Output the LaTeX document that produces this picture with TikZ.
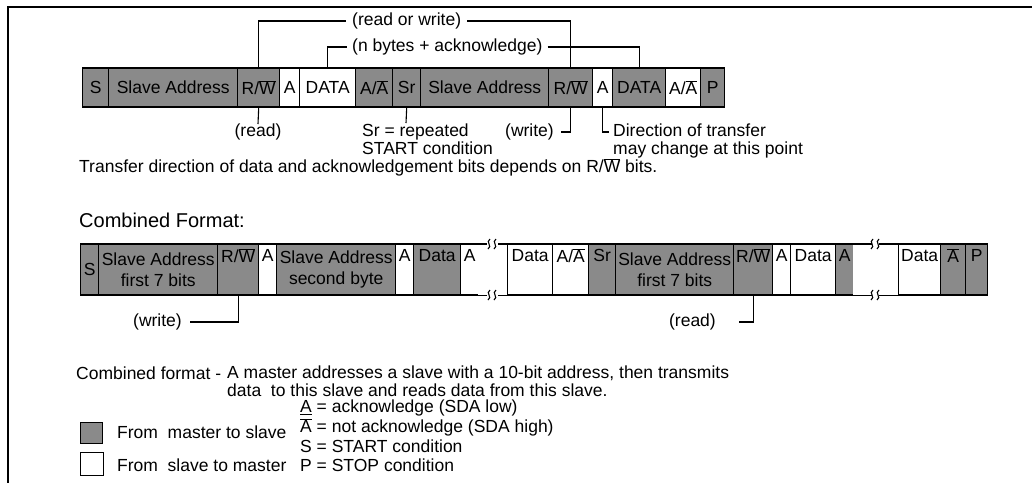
\documentclass[tikz,border=0pt]{standalone}
\usepackage{fontspec}
\setmainfont{Liberation Sans}
\newcommand\fs{\fontsize{17.5}{18}\selectfont}
\newcommand\fsc{\fontsize{17.5}{21}\selectfont}
\newcommand\fsb{\fontsize{20}{22}\selectfont}
\newcommand\ovl[1]{\ensuremath{\overline{\mbox{#1}}}}
\definecolor{cellgrey}{RGB}{138,138,138}
\newcommand\brkmark[2]{%
  \draw[conn] (#1-4,#2+5) .. controls (#1+1,#2+2) and (#1-7,#2-2) .. (#1-2,#2-5);
  \draw[conn] (#1+2,#2+5) .. controls (#1+7,#2+2) and (#1-1,#2-2) .. (#1+4,#2-5);}
\begin{document}
\begin{tikzpicture}[x=1pt,y=-1pt,
  cellbase/.style={draw=black, line width=1.4pt, inner sep=0pt, anchor=west, align=center},
  gc/.style={cellbase, fill=cellgrey},
  wc/.style={cellbase, fill=white},
  rowa/.style={minimum height=39, font=\fs},
  rowb/.style={minimum height=51, font=\fsc},
  lbl/.style={font=\fs, inner sep=0pt, align=left},
  conn/.style={line width=1.1pt},
  gapcell/.style={inner sep=0pt, anchor=west, minimum height=51, fill=white}]
\useasboundingbox (0,0) rectangle (1032,483);
% frame
\coordinate (fr1) at (1032,7);
\coordinate (fr2) at (8,7);
\coordinate (fr3) at (8,483);
\draw[line width=2pt] (fr1) -- (fr2) -- (fr3);

% ---- row 1
\node[gc,rowa,minimum width=26] (a1) at (82,87.5) {S};
\node[gc,rowa,minimum width=129] (a2) at (108,87.5) {Slave Address};
\node[gc,rowa,minimum width=42] (a3) at (237,87.5) {R/\ovl{W}};
\node[wc,rowa,minimum width=20] (a4) at (279,87.5) {A};
\node[wc,rowa,minimum width=56] (a5) at (299,87.5) {DATA};
\node[gc,rowa,minimum width=37] (a6) at (355,87.5) {A/\ovl{A}};
\node[gc,rowa,minimum width=28] (a7) at (392,87.5) {Sr};
\node[gc,rowa,minimum width=128] (a8) at (420,87.5) {Slave Address};
\node[gc,rowa,minimum width=44] (a9) at (548,87.5) {R/\ovl{W}};
\node[wc,rowa,minimum width=20] (a10) at (592,87.5) {A};
\node[gc,rowa,minimum width=53] (a11) at (612,87.5) {DATA};
\node[wc,rowa,minimum width=35] (a12) at (665,87.5) {A/\ovl{A}};
\node[gc,rowa,minimum width=24] (a13) at (700,87.5) {P};

% labels above row 1
\node[lbl,anchor=west,inner xsep=6pt] (rwl) at (346,21) {(read or write)};
\draw[conn] (a3.north) |- (rwl.west);
\draw[conn] (rwl.east) -| (a9.north);
\node[lbl,anchor=west,inner xsep=5pt] (nbl) at (347,47) {(n bytes + acknowledge)};
\draw[conn] (a5.north) |- (nbl.west);
\draw[conn] (nbl.east) -| (a11.north);

% labels below row 1
\node[lbl,anchor=north] (rdl) at (258,124) {(read)};
\draw[conn] (a3.south) -- (rdl.north);
\node[lbl,anchor=north west] (srl) at (362,124) {Sr = repeated\\START condition};
\coordinate (srend) at (406,123);
\draw[conn] (a7.south) -- (srend);
\node[lbl,anchor=east] (wrl) at (554,132) {(write)};
\coordinate (wrend) at (561,132);
\draw[conn] (a9.south) |- (wrend);
\node[lbl,anchor=north west] (dirl) at (613,124) {Direction of transfer\\may change at this point};
\coordinate (dirend) at (609,132);
\draw[conn] (a10.south) |- (dirend);

\node[lbl,anchor=west] (tdl) at (79,167) {Transfer direction of data and acknowledgement bits depends on R/\ovl{W} bits.};
\node[lbl,anchor=west,font=\fsb] (cfl) at (79,220) {Combined Format:};

% ---- row 2
\node[gc,rowb,minimum width=18] (b1) at (80,269.5) {S};
\node[gc,rowb,minimum width=119] (b2) at (98,269.5) {Slave Address\\first 7 bits};
\node[gc,rowb,minimum width=41] (b3) at (217,269.5) {R/\ovl{W}\\\strut};
\node[wc,rowb,minimum width=18] (b4) at (258,269.5) {A\\\strut};
\node[gc,rowb,minimum width=119] (b5) at (276,269.5) {Slave Address\\second byte};
\node[wc,rowb,minimum width=18] (b6) at (395,269.5) {A\\\strut};
\node[gc,rowb,minimum width=47] (b7) at (413,269.5) {Data\\\strut};
\node[wc,rowb,minimum width=18] (b8) at (460,269.5) {A\\\strut};
\node[gapcell,minimum width=29] (g1) at (478,269.5) {};
\node[wc,rowb,minimum width=45] (b9) at (507,269.5) {Data\\\strut};
\node[wc,rowb,minimum width=36] (b10) at (552,269.5) {A/\ovl{A}\\\strut};
\node[gc,rowb,minimum width=27] (b11) at (588,269.5) {Sr\\\strut};
\node[gc,rowb,minimum width=118] (b12) at (615,269.5) {Slave Address\\first 7 bits};
\node[gc,rowb,minimum width=39] (b13) at (733,269.5) {R/\ovl{W}\\\strut};
\node[wc,rowb,minimum width=18] (b14) at (772,269.5) {A\\\strut};
\node[wc,rowb,minimum width=45] (b15) at (790,269.5) {Data\\\strut};
\node[gc,rowb,minimum width=18] (b16) at (835,269.5) {A\\\strut};
\node[gapcell,minimum width=45] (g2) at (853,269.5) {};
\node[wc,rowb,minimum width=42] (b17) at (898,269.5) {Data\\\strut};
\node[gc,rowb,minimum width=25] (b18) at (940,269.5) {\ovl{A}\\\strut};
\node[gc,rowb,minimum width=22] (b19) at (965,269.5) {P\\\strut};

% broken lines in the gaps
\draw[line width=1.4pt] (g1.north west) -- ++(9,0) (g1.north east) -- ++(-9,0);
\draw[line width=1.4pt] (g1.south west) -- ++(9,0) (g1.south east) -- ++(-9,0);
\brkmark{492}{244}
\brkmark{492}{295}
\draw[line width=1.4pt] (g2.north west) -- ++(19,0) (g2.north east) -- ++(-19,0);
\draw[line width=1.4pt] (g2.south west) -- ++(19,0) (g2.south east) -- ++(-19,0);
\brkmark{875}{244}
\brkmark{875}{295}

% labels below row 2
\node[lbl,anchor=east] (wr2l) at (182,322) {(write)};
\coordinate (wr2end) at (190,322);
\draw[conn] (b3.south) |- (wr2end);
\node[lbl,anchor=east] (rd2l) at (716,322) {(read)};
\coordinate (rd2end) at (739,322);
\draw[conn] (b13.south) |- (rd2end);

\node[lbl,anchor=west] (cf1) at (76,373) {Combined format -};
\node[lbl,anchor=west] (cf2) at (227,373) {A master addresses a slave with a 10-bit address, then transmits};
\node[lbl,anchor=west] (cf3) at (227,390) {data~ to this slave and reads data from this slave.};

% legend
\node[gc,anchor=north west,minimum width=22,minimum height=21] (lgg) at (80,422) {};
\node[wc,anchor=north west,minimum width=23,minimum height=23] (lgw) at (80,452) {};
\node[lbl,anchor=west] (lgt1) at (117,432) {From~ master to slave};
\node[lbl,anchor=west] (lgt2) at (117,465) {From~ slave to master};
\node[lbl,anchor=west] (k1) at (300,408) {\underline{A} = acknowledge (SDA low)};
\node[lbl,anchor=west] (k2) at (300,427) {\ovl{A} = not acknowledge (SDA high)};
\node[lbl,anchor=west] (k3) at (300,446) {S = START condition};
\node[lbl,anchor=west] (k4) at (300,465) {P = STOP condition};
\end{tikzpicture}
\end{document}
